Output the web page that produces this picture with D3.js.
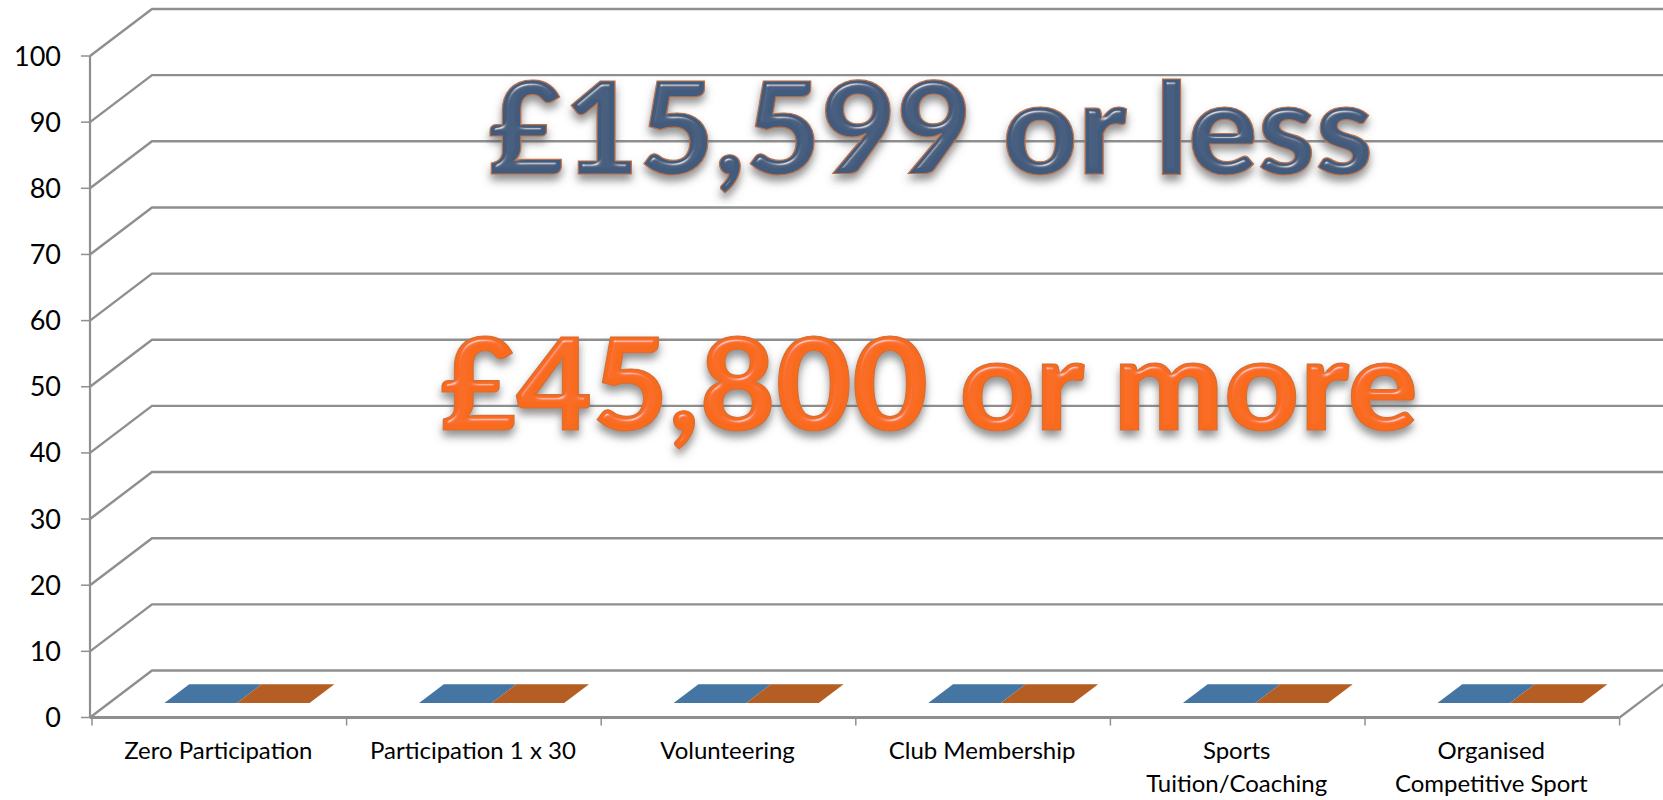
<!DOCTYPE html>
<html>
<head>
<meta charset="utf-8">
<script src="https://cdn.jsdelivr.net/npm/d3@7/dist/d3.min.js"></script>
<style>
html,body{margin:0;padding:0;background:#fff;overflow:hidden}
svg{display:block}
</style>
</head>
<body>
<svg id="chart" width="1663" height="800"></svg>
<script>
const categories = ["Zero Participation","Participation 1 x 30","Volunteering","Club Membership","Sports Tuition/Coaching","Organised Competitive Sport"];
const categoryLines = [["Zero Participation"],["Participation 1 x 30"],["Volunteering"],["Club Membership"],["Sports","Tuition/Coaching"],["Organised","Competitive Sport"]];
const seriesNames = ["£15,599 or less","£45,800 or more"];
const seriesColors = ["#4575a2","#b55e23"];
const lowIncome = [0,0,0,0,0,0];
const highIncome = [0,0,0,0,0,0];
const yTicks = [0,10,20,30,40,50,60,70,80,90,100];

const svg = d3.select("#chart");
const W = 1663, H = 800;
const font = "Lato, Carlito, Calibri, sans-serif";
const gridColor = "#8f8f8f";

const x = d3.scaleBand().domain(categories).range([92,1619.6]);
const y = d3.scaleLinear().domain([0,100]).range([717.5,56]);
const depthX = d3.scaleLinear().domain([0,1]).range([0,62]);
const depthY = d3.scaleLinear().domain([0,1]).range([0,-47]);
const wallX = 90;
const line = d3.line();

const defs = svg.append("defs");
function bevel(id, shadowOpacity, specK){
  const f = defs.append("filter").attr("id",id)
    .attr("x","-5%").attr("y","-20%").attr("width","110%").attr("height","140%");
  f.append("feGaussianBlur").attr("in","SourceAlpha").attr("stdDeviation",2.4).attr("result","blur");
  const s = f.append("feSpecularLighting").attr("in","blur").attr("surfaceScale",5)
    .attr("specularConstant",specK).attr("specularExponent",70)
    .attr("lighting-color","#ffffff").attr("result","spec");
  s.append("feDistantLight").attr("azimuth",250).attr("elevation",52);
  f.append("feComposite").attr("in","spec").attr("in2","SourceAlpha").attr("operator","in").attr("result","specIn");
  f.append("feGaussianBlur").attr("in","SourceAlpha").attr("stdDeviation",4).attr("result","sb");
  f.append("feOffset").attr("in","sb").attr("dy",6).attr("result","so");
  f.append("feFlood").attr("flood-color","#555").attr("flood-opacity",shadowOpacity).attr("result","sc");
  f.append("feComposite").attr("in","sc").attr("in2","so").attr("operator","in").attr("result","shadow");
  const m = f.append("feMerge");
  m.append("feMergeNode").attr("in","shadow");
  m.append("feMergeNode").attr("in","SourceGraphic");
  m.append("feMergeNode").attr("in","specIn");
}
bevel("bevelBlue",0.65,0.7);
bevel("bevelOrange",0.65,0.55);

// vertical wall axis and tick marks
svg.append("line").attr("x1",wallX).attr("x2",wallX).attr("y1",y(100)).attr("y2",y(0))
  .attr("stroke",gridColor).attr("stroke-width",2.2);

const gridG = svg.append("g").attr("fill","none").attr("stroke",gridColor);
yTicks.forEach(t=>{
  const py = y(t);
  gridG.append("path").attr("stroke-width",2.4)
    .attr("d",line([[wallX,py],[wallX+depthX(1),py+depthY(1)],[W+10,py+depthY(1)]]));
  gridG.append("line").attr("stroke-width",1.5).attr("x1",wallX-9).attr("x2",wallX).attr("y1",py).attr("y2",py);
});

// floor front edge and its right side
const xEnd = x.range()[1];
gridG.append("path").attr("stroke-width",2.8)
  .attr("d",line([[wallX,y(0)],[xEnd,y(0)]]));
gridG.append("path").attr("stroke-width",2.2)
  .attr("d",line([[xEnd,y(0)],[xEnd+depthX(1),y(0)+depthY(1)]]));
categories.concat([null]).forEach((c,i)=>{
  const px = c===null ? xEnd : x(c);
  gridG.append("line").attr("stroke-width",1.5).attr("x1",px).attr("x2",px).attr("y1",y(0)).attr("y2",y(0)+8);
});

// zero-height bars: only the top face shows, lying on the floor
const frontD = 0.31, backD = 0.71, barShare = 0.285;
[lowIncome,highIncome].forEach((vals,s)=>{
  svg.append("g").selectAll("path").data(categories).join("path")
    .attr("fill",seriesColors[s])
    .attr("d",(c,i)=>{
      const bw = x.bandwidth()*barShare;
      const x0 = x(c)+x.bandwidth()/2-bw+s*bw-1.5;
      const py = y(vals[i]);
      return line([
        [x0+depthX(frontD),py+depthY(frontD)],
        [x0+bw+depthX(frontD),py+depthY(frontD)],
        [x0+bw+depthX(backD),py+depthY(backD)],
        [x0+depthX(backD),py+depthY(backD)]
      ])+"Z";
    });
});

// y labels
svg.append("g").selectAll("text").data(yTicks).join("text")
  .attr("x",61).attr("y",d=>y(d)+9.5)
  .attr("text-anchor","end").attr("font-family",font).attr("font-size",27).attr("fill","#000")
  .text(d=>d);

// category labels
categories.forEach((c,i)=>{
  const g = svg.append("text").attr("text-anchor","middle").attr("font-family",font)
    .attr("font-size",24).attr("fill","#000");
  categoryLines[i].forEach((l,j)=>{
    g.append("tspan").attr("x",x(c)+x.bandwidth()/2-1).attr("y",759+j*33).text(l);
  });
});

// big overlay labels
svg.append("text").attr("x",488).attr("y",174).attr("textLength",885).attr("lengthAdjust","spacingAndGlyphs")
  .attr("font-family",font).attr("font-weight",900).attr("font-size",128)
  .attr("fill","#435a7c").attr("stroke","#b9714a").attr("stroke-width",1.2)
  .attr("filter","url(#bevelBlue)").text(seriesNames[0]);
svg.append("text").attr("x",440).attr("y",430).attr("textLength",978).attr("lengthAdjust","spacingAndGlyphs")
  .attr("font-family",font).attr("font-weight",900).attr("font-size",128)
  .attr("fill","#fa6a1c").attr("stroke","#d0703a").attr("stroke-width",1.2)
  .attr("filter","url(#bevelOrange)").text(seriesNames[1]);
</script>
</body>
</html>
